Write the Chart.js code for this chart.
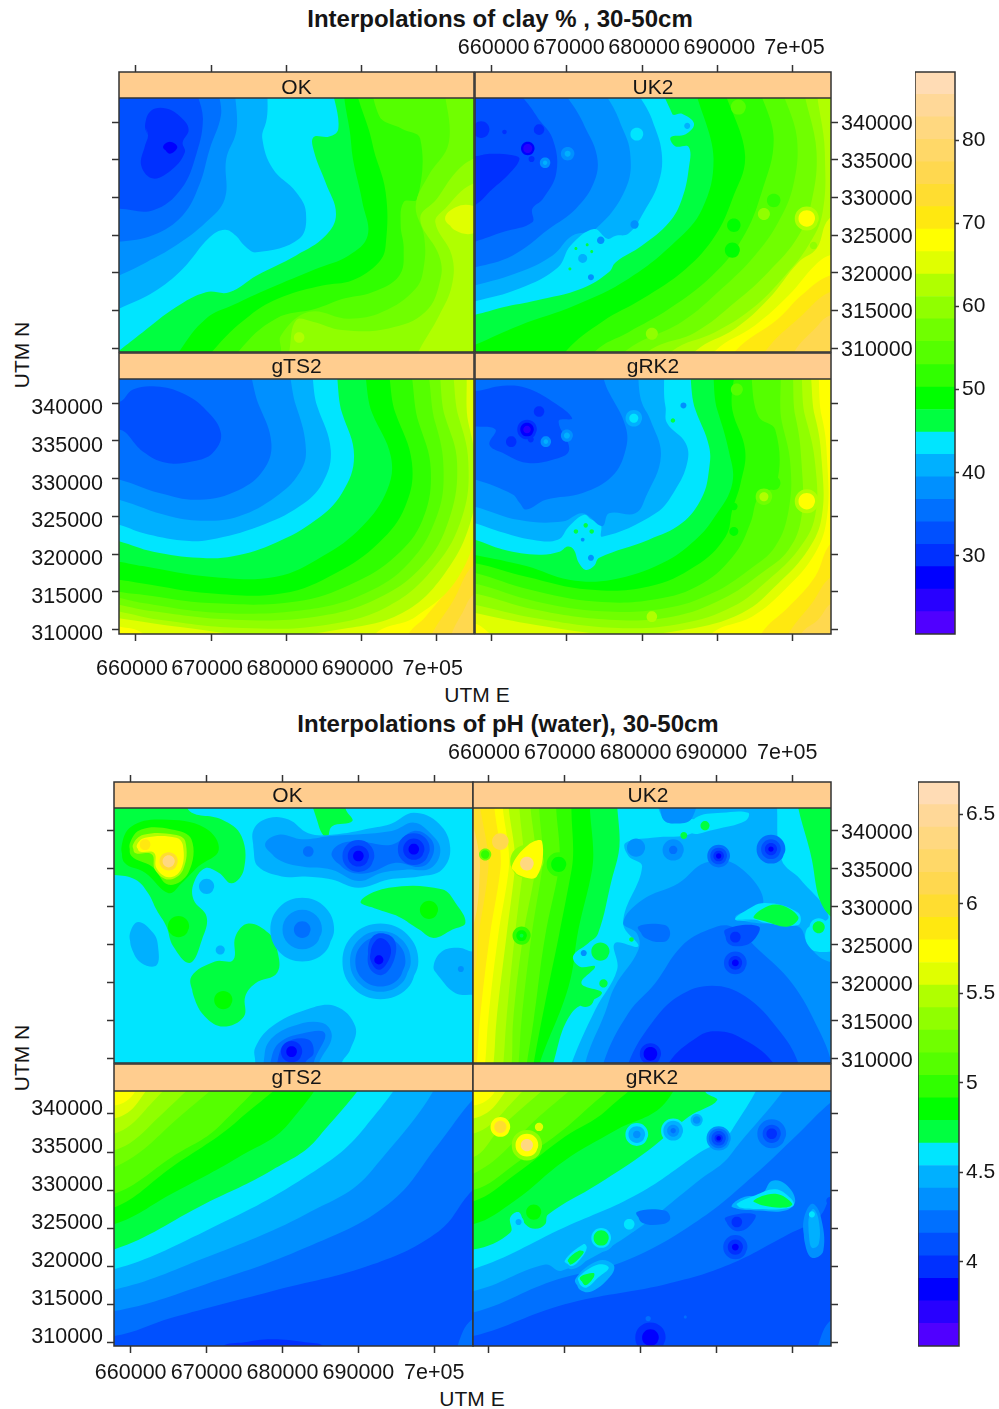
<!DOCTYPE html>
<html><head><meta charset="utf-8"><title>Interpolations</title>
<style>
html,body{margin:0;padding:0;background:#fff;overflow:hidden}
#page{position:relative;width:999px;height:1409px;overflow:hidden;font-family:"Liberation Sans",Arial,sans-serif;color:#151515}
canvas{position:absolute}
.t{position:absolute;white-space:nowrap;transform:translate(-50%,-50%);font-size:21px;line-height:1}
.b{font-weight:bold;font-size:24px}
.v{transform:translate(-50%,-50%) rotate(-90deg)}
</style>
<script src="https://cdn.jsdelivr.net/npm/chart.js@4/dist/chart.umd.min.js"></script>
</head><body><div id="page">
<div class="t b" style="left:500px;top:19px">Interpolations of clay % , 30-50cm</div>
<div class="t" style="left:477px;top:694px">UTM E</div>
<div class="t v" style="left:21px;top:355px">UTM N</div>
<div class="t b" style="left:508px;top:724px">Interpolations of pH (water), 30-50cm</div>
<div class="t" style="left:472px;top:1398px">UTM E</div>
<div class="t v" style="left:21px;top:1058px">UTM N</div>
</div>
<script>
// Shared scale values and tick labels
const palette=['#5000ff','#2800ff','#0000ff','#0030ff','#0050ff','#0070ff','#0090ff','#00b0ff','#00e5ff','#00ff40','#00ff00','#30ff00','#55ff00','#70ff00','#90ff00','#b0ff00','#e0ff00','#ffff00','#ffe810','#ffdd30','#ffd84f','#ffd868','#ffd880','#ffd898','#ffdcb5'];
const clayLevels=[20.6,23.3,26.0,28.7,31.4,34.1,36.8,39.5,42.2,44.9,47.6,50.3,53.0,55.8,58.5,61.2,63.9,66.6,69.3,72.0,74.7,77.4,80.1,82.8,85.5,88.2];
const phLevels=[3.53,3.656,3.782,3.908,4.034,4.16,4.286,4.412,4.538,4.664,4.79,4.916,5.042,5.168,5.294,5.42,5.546,5.672,5.798,5.924,6.05,6.176,6.302,6.428,6.554,6.68];
const clayBarTicks=[30,40,50,60,70,80];
const phBarTicks=[4,4.5,5,5.5,6,6.5];
const eastTicks=[660000,670000,680000,690000,700000];
const eastLabels=['660000','670000','680000','690000','7e+05'];
const northTicks=[310000,315000,320000,325000,330000,335000,340000];
// Outer limits (km) so that contour regions run past the panel edges
const L=654,R=709,T=347,B=306;
// Contour regions in km: [paletteIndex, E,N, E,N, ...]; [paletteIndex,E,N,radius] is a round spot; [paletteIndex] is the panel base
const clayOK=[[4],
[5,668.4,T,668.9,340.4,668.1,336,666,331.1,662.3,328.3,657.7,328.5,L,328.5,L,B,R,B,R,T],
[6,671.5,T,671.3,340.9,669.8,336.4,668.4,331.6,666.2,327.6,662.3,325,657.7,324.1,L,324,L,B,R,B,R,T],
[7,674.6,T,673.3,338.6,672,335.1,671.8,329.8,669.3,326.7,665.3,323.6,661.4,321.4,657.7,319.6,L,318,L,B,R,B,R,T],
[8,679,T,677.3,340,676.8,337.8,678.2,333.8,681.3,330.7,682.6,328,681.7,324.5,676,322.7,674.4,323.6,673.3,324.9,671.8,325.7,669.8,324.7,666.2,320.5,662.3,317.4,657.7,315.2,L,313.5,L,B,R,B,R,T],
[9,686.9,T,686.9,339.1,685.7,338.1,683.6,338,683.7,336,685.2,332,686.6,327.8,685.2,324.9,681.3,322.3,676,319.6,672.4,317.4,669.3,317.4,665.3,315.4,660.9,312.1,657.7,309.6,655,307.5,R,B,R,T],
[10,689,T,688.6,337.3,690.1,329.4,690.8,324.9,688.3,322.3,683.9,320.5,677.7,317.9,672.9,315.7,669.3,313.9,665.8,309.6,664,B,R,B,R,T],
[11,690.1,T,691.4,337.3,693.2,330.7,693.2,323.6,692.3,321.4,688.8,319,684.8,318.3,679.5,316.8,675.1,314.3,670.2,309.6,668,B,R,B,R,T],
[12,692.3,T,692.3,340.9,695.4,339.1,697.8,337.8,697.4,329.8,695.6,329.4,695.2,326.3,695.6,323.2,695,319.6,691.4,317.4,687.4,316.5,683.9,315.2,678.6,313.9,673.7,309.6,672,B,R,B,R,T],
[13,701.6,T,701.6,337.3,698.9,332.9,697.2,328.9,698.3,324.9,698.3,321,697.2,317.9,692.8,314.8,688.3,313.9,683,314.8,679.3,311.7,679.3,309.6,679,B,R,B,R,T],
[14,R,336.4,704.8,335.1,702.5,333.3,700,329.8,697.8,327.2,700.3,322.3,700.5,319.2,698.5,314.8,693.6,312.6,687.4,312.4,683.5,313.5,681.3,313.7,680.4,309.6,680,B,R,B],
[15,R,332,704.8,331.8,701.1,328.5,699.8,326.7,702,322.3,702,318.3,700.3,314.3,697.6,309.6,696,B,R,B],
[15,681.7,311.4,.7],
[16,701.1,327.2,702.5,328.7,704.8,328.9,R,327,704.8,325.2,702.5,325.6],
[3,661.2,339.5,662,341.5,664,341.8,666,340.6,667,339,666.2,337.3,666.5,336,664.9,333.8,662.3,332.5,660.7,334.2,661.2,336.9,661.6,338.2],
[2,663.6,336.7,664.5,337.4,665.5,336.7,664.5,335.8]];
const clayUK2=[[4],
[3,657.7,335.5,659.7,335.8,662.8,335.6,663.7,335.1,662.3,333.1,660.1,331.1,657.7,328.9,655,328,655,336],
[3,658.6,339,1.1],
[5,662.8,T,665.9,340.9,668.1,337.8,668.6,333.3,666.8,329.8,665.4,328.5,665.4,326.7,661.5,325.4,657.7,324.1,L,323,L,B,R,B,R,T],
[6,669.2,T,672.1,340,674,335.5,673.6,332,671.2,328.5,667.6,325.8,662.8,322.3,657.7,320.7,L,320,L,B,R,B,R,T],
[7,674.7,T,676.9,340.4,678.4,336,677.8,331.1,673.8,325.8,670.7,324.9,668.1,322.3,663.7,320.1,657.7,318.3,L,317.5,L,B,R,B,R,T],
[8,678.9,T,681.3,340.4,682.6,336,682.2,332,680.2,328,678.2,325.2,676.5,324.9,675.4,324.5,673.6,325.8,670.5,323.6,668.8,320.7,663.7,317.9,657.7,316.2,L,315.5,L,B,R,B,R,T],
[9,682.9,T,684,341.1,685.3,341.1,686.9,339.8,685.8,338.4,683.8,338,684.4,336.8,686.2,336.7,686.2,333.8,685.3,329.8,683.6,326.7,680,323.6,676.5,321.4,675.6,320.1,672,317.9,665.9,316.3,661.5,315.4,657.7,314.4,L,314,L,B,R,B,R,T],
[10,688,T,689.5,335.1,688,328.5,684.4,324.1,678.2,319.2,671.2,315.7,663.7,313,657.7,310.4,L,309,L,B,R,B,R,T],
[11,691.5,T,693.7,335.5,692,329.8,689.7,324.9,685.8,320.5,680,316.5,674.7,313.5,669.9,309.6,668,B,R,B,R,T],
[12,695.9,T,697.5,337.8,695.9,330.7,693.3,324.5,689.3,319.6,683.6,315.2,678.2,312.1,673.8,309.6,672,B,R,B,R,T],
[13,698.8,T,700.6,337.8,700.1,331.6,698.1,326.7,695,322.3,690.6,317.9,685.3,313.5,677.8,309.6,676,B,R,B,R,T],
[14,701.9,T,703.2,336,702.6,329.8,700.8,324.9,696.8,320.1,692.4,316.1,687.1,312.1,680.9,309.6,679,B,R,B,R,T],
[15,703.7,T,704.3,336,704,328,702.1,323.6,699,319.6,694.6,315.2,689.7,312.1,684,309.6,682,B,R,B,R,T],
[16,R,329,704.9,327.2,703.2,323.2,700.8,321.4,696.8,316.5,692.4,312.6,687.1,309.6,685,B,R,B],
[17,704.9,322.3,703,321,699.5,317,695,313,689.7,309.6,688,B,R,B,R,323],
[18,704.9,319.6,701.2,317,698.1,313.9,692.4,309.6,691,B,R,B,R,320],
[19,704.9,317.4,701.2,314.3,696.4,309.6,695,B,R,B,R,318],
[20,704.9,314.3,703,312.6,700.3,309.6,699,B,R,B,R,315],
[12,692.8,342,1],[14,681.3,311.9,.8],[15,701.9,327.2,1.6],[17,701.9,327.2,1.1],[11,697.5,329.6,.9],[14,696.2,327.8,.8],[11,694.6,328.7,.6],[10,692.2,326.3,.9],[10,692,323,1],[14,702.8,323.6,.5],
[8,679.3,338.4,.85],[7,686,339.5,.4],[7,672.1,321.9,.6],[6,673.2,319.4,.4],[6,674.5,324.3,.5],[6,679,326.4,.55],
[9,671.2,323.2,.2],[9,672.7,323.7,.2],[9,673.3,322.8,.2],[9,670.4,320.5,.2],
[2,664.8,336.5,.9],[1,664.8,336.5,.6],[3,665.3,335.1,.4],[3,666.3,339,.7],[3,661.7,338.7,.3],
[6,670.1,335.8,.9],[7,670.1,335.8,.4],[6,667.1,334.6,.7],[7,667.1,334.6,.3]];
const clayTS=[[20],
[19,705.1,314.8,703.4,312.2,702,309.5,701,B,L,B,L,T,R,T,R,316],
[18,705.1,318.8,702,313.5,699.4,309.5,698,B,L,B,L,T,R,T,R,320],
[17,705.1,323.2,702.5,317,698.5,311.7,696.3,309.5,695,B,L,B,L,T,R,T,R,325],
[16,703.4,T,706,333.8,705.6,325,702.9,317,697.2,311.7,691.9,309.5,691,B,664,B,660.9,309.5,657.7,310.4,L,311,L,T],
[15,701.8,T,704.2,337.4,705.1,332.1,704.7,325,701.1,317.5,695.4,312.2,687,310,677.7,309.1,665.3,310.4,657.7,311.5,L,312,L,T],
[14,699.8,T,702.9,338.2,704.2,332.1,703.4,325,699.8,318.4,693.6,313.1,685.2,310.6,674.2,310.2,663.1,311.3,657.7,312.4,L,313,L,T],
[13,698.1,T,701.1,338.2,702.7,332.1,701.6,324.5,698.1,318.4,691.9,314,683.9,311.7,672.9,311.3,662.3,312.4,657.7,313.3,L,314,L,T],
[12,696.3,T,699.8,337.4,700.9,331.2,700,325,696.3,318.8,690.5,314.8,682.6,312.6,671.1,312.2,660.9,313.5,657.7,314.2,L,315,L,T],
[11,694.1,T,697.6,337.4,699.2,331.2,698.1,324.5,694.5,319.7,688.8,316.1,681.3,313.7,669.8,313.5,660.9,314.6,657.7,315,L,316,L,T],
[10,691.4,T,694.5,338.7,696.7,332.1,695.8,326.3,692.3,321.5,686.6,317.5,679.5,314.8,669.8,314.8,660.9,316.1,657.7,316.6,L,317,L,T],
[9,688.3,T,691.4,338.7,693.9,332.9,693.4,328.5,690.1,323.7,684.8,319.7,678.6,317,669.8,317,660.9,318.4,657.7,319,L,319.5,L,T],
[8,684.6,T,687.4,338.7,689,333,687.4,328.1,683.9,324.5,678.6,321.5,672.9,319.7,668.4,319.5,662.3,320.3,657.7,321.7,L,322.5,L,T],
[7,681.5,T,684.1,339.6,685.9,333.8,684.8,329.4,681.7,326.3,676.4,323.7,669.8,321.9,666.2,321.8,660.9,322.8,657.7,323.9,L,324.5,L,T],
[6,678.2,T,681.3,339.6,682.6,333.8,681.7,330.7,678.6,327.6,673.7,325,669.3,324.4,664.5,325,657.7,327.2,L,328,L,T],
[5,672.9,T,676.4,339.6,678,334.7,677,331.2,673.7,328.5,668.4,327.2,663.1,328.1,657.7,329.9,L,330.5,L,T],
[4,657.7,340.2,659.6,341.8,662.7,342.2,666.2,341.3,669.3,339.1,671.3,336,670.2,333.4,667.6,332.3,664,332.1,660.9,333.6,657.7,336.5,L,334.5,L,342]];
const clayRK=[[20],
[19,705.2,313.5,703.4,311.3,701.2,309.5,700,B,L,B,L,T,R,T,R,315],
[18,705.2,317,702.6,313.5,699.5,309.5,698,B,L,B,L,T,R,T,R,318],
[17,705.2,321.5,703,317,699.5,313,695.9,309.5,695,B,L,B,L,T,R,T,R,323],
[16,701.2,T,703.9,338.2,704.6,332.5,704.6,325,703,320.1,699,315.3,694.6,311.7,689.3,309.5,688,B,664,B,659.7,309.5,657.7,310.8,L,311,L,T],
[15,700.1,T,703,338.2,703.9,332.1,703.9,325,702.1,320.6,698.1,316.1,693.3,312.2,685.8,310,676.9,309.3,665.9,310.6,657.7,312.2,L,313,L,T],
[14,699,T,701.7,338.2,703,332.1,703,325,700.8,320.6,696.8,316.6,692,313,685.3,310.8,676.9,310.2,665.9,311.5,657.7,313.3,L,314,L,T],
[13,697.9,T,700.4,338.2,701.2,332.1,701.2,325,699.5,320.6,695.9,317.5,690.6,314,684,311.7,675.6,311.3,665.9,312.6,657.7,314.8,L,315,L,T],
[12,696.4,T,698.6,337.4,699.7,332.1,699.5,325.9,697.7,321,694.2,317.9,689.3,314.8,683.1,312.8,674.7,312.4,665.9,313.7,657.7,316.1,L,316.5,L,T],
[11,692.4,T,695.5,338.2,697.7,336.5,697.9,329.4,695.5,327.6,694.4,324.1,692.4,320.1,688,316.1,681.8,314,673.8,313.7,665,315.3,657.7,317.5,L,318,L,T],
[10,691.1,T,692,339.1,693.7,333.8,693.1,329.4,692,325.9,691.1,322.3,687.1,318.4,680.9,315.7,672.9,315.3,664.6,317,657.7,318.8,L,319,L,T],
[9,687.5,T,690,339.1,691.5,333.8,692,329.4,689.7,325,687.1,321.9,682.7,318.8,676,316.6,670.3,316.6,664.6,318.4,657.7,319.9,L,320.5,L,T],
[8,684.4,T,687.1,339.1,688.9,334.3,688.9,331.2,688,327.6,685.3,324.1,680.9,321.9,674.3,319.5,673.6,318.4,672.5,317.9,671.6,318.8,670.9,320.6,670.1,321,669,320.3,666.3,319.9,661.5,320.6,657.7,321.9,L,322.5,L,T],
[7,681.3,T,683.1,339.6,683.3,337.4,685.8,334.7,686,332.1,684.4,328.5,681.8,325.4,674.7,322.3,674.5,323.9,673.2,324.6,672.3,325.2,670.3,323.7,668.8,321.9,665.4,321.9,661,323,657.7,324.1,L,325,L,T],
[6,677.8,T,680,340,681.1,337.8,682.5,333,680.5,327.6,679.1,325.4,675.6,325.4,674.7,323.7,672.1,325.4,669.4,324.3,663.7,324.5,657.7,326.3,L,327,L,T],
[5,672.5,T,675.6,341.4,677.8,336.9,677.8,333.8,676,330.3,672.1,328.1,667.2,327.2,664.6,325.9,663.7,326.8,662.8,327.9,657.7,329.9,L,330.5,L,T],
[4,657.7,341.6,661.5,342.3,664.6,342,668.1,340.2,670.7,338,668.9,337.6,670.3,333.8,668.1,332.5,664.6,332.1,661.5,333.4,659.7,334.5,660.5,336.5,657.7,336.9,L,337,L,342],
[3,664.7,336.5,1.3],[2,664.7,336.5,.9],[1,664.7,336.5,.5],[3,662.6,334.9,.7],[3,665.2,335.2,.4],[3,666.3,338.9,.7],
[6,667.2,334.9,.7],[7,667.2,334.9,.3],[6,670,335.7,.8],[7,670,335.7,.4],[7,678.9,338,1.1],[8,678.9,338,.6],
[6,685.5,339.7,.4],[9,684.1,337.7,.3],[9,671.2,323,.3],[9,672.5,323.8,.3],[9,673.3,323,.3],[6,672.1,321.9,.25],[6,673.2,319.5,.4],
[13,696.2,327.6,1.1],[15,696.2,327.6,.6],[15,701.9,327,1.6],[17,701.9,327,1.1],[11,697.5,329.4,.9],[12,692.6,341.8,.8],[10,692.2,326.3,.5],[10,692.2,323,.6],[15,681.3,311.7,.7]];
const phOK=[[8],
[9,L,334.2,L,T,667.6,T,667.6,342.8,672,341.5,674.6,339.3,674.9,334.9,673.3,333.1,671.6,334.5,669.8,335.1,668.3,333.1,668.3,330.9,670,328.7,669.4,325.7,667.8,322.6,665.6,324.8,664.7,327.4,663.4,329.6,662.3,331.8,660.6,333.6,657.8,334.2],
[10,658.8,338,660.1,340.6,664.1,341.5,669.8,340.4,671.6,337.5,668.9,335.3,666.7,333.1,665,331.8,661.9,334.5,659.2,335.8],
[10,666.3,327.4,1.4],
[12,659.9,338.4,661.4,340.2,665.4,340.2,668,338.9,667.6,334.5,665,332.9,662.8,335.3,660.1,336.7],
[15,660.3,338.2,661.7,339.5,665.8,339.5,667.2,338.6,666.9,334.9,665,333.6,663.2,334.9,662.8,336.9,660.6,337.1],
[17,660.8,338.1,661.9,339.1,666,339.1,666.9,338,666.6,334.9,665,333.9,663.4,335.1,663.1,337.1,661.2,337.3],
[19,665,336,1.2],[22,665,336,.8],[18,661.9,338.2,.7],
[9,668,320.8,671.1,322.8,673.5,323,673.8,326.1,675.5,327.8,678.2,326.5,679.3,324.3,679.3,321.3,676.4,319.9,675.1,318.2,674.9,315.5,672.2,314.2,669.8,315.5,668.3,318.2],
[10,672.2,317.7,1.2],
[9,683.7,T,684.8,340.6,685.9,339.1,686.5,340.6,689.2,341.3,688.3,343,688.3,T],
[9,690.3,330.7,694,332.5,701,332.3,702.8,330.5,704.1,327.9,702.4,327,699.9,325.9,698,327,695.3,328.7,692.7,329.6],
[10,699.3,329.6,1.2],
[7,676.2,340.2,678.2,341.7,680.8,341.5,683.4,339.7,686.5,339.5,691.8,340.4,694.4,341,697.3,342.4,700.6,341,702.1,337.8,701,334.9,698,334,694,333.6,690,332.5,686.5,333.6,683,334,679.9,334,676.8,335.3,676.2,337.5],
[6,677.7,338.2,679.5,339.5,682.6,338.9,686.1,339.3,694.4,340,697.3,341.1,699.5,339.7,700.8,337.5,699.5,335.1,696.2,334.9,693.1,334.5,690,333.4,686.5,334.9,682.6,335.3,679.5,336.2],
[5,683.4,337.3,.7],
[5,686.5,336.7,687.4,338.2,690,338.6,694.4,338.2,697.3,340,699.5,339,699.9,337.1,698.4,335.3,694.9,335.8,691.4,334.5,688.7,334.7],
[4,690,336.7,2.1],[4,697.3,337.6,2.1],[3,690,336.7,1.4],[3,697.3,337.6,1.4],[2,690,336.7,.7],[2,697.3,337.6,.7],
[7,682.6,327,4.2],[6,682.6,327,2.6],[5,682.6,327,1.1],
[7,692.9,322.8,5],[6,692.9,322.8,4],[5,692.9,322.8,3.3],
[4,691.4,325.2,692.7,326.5,694.7,325.7,694.7,323,693.1,321,691.4,322.1],
[3,691.8,324.8,692.9,325.9,694.2,324.8,694,323,692.7,321.7,691.6,323],
[2,692.7,323,.6],
[7,659.9,326.5,661,328,663,326.5,663.6,324.8,663.4,322.3,661.4,322.6,660.1,324.6],
[7,671.8,324.3,.6],[7,670,332.7,1],
[7,699.9,322.1,701,324.1,703.2,324.6,705,324.1,R,324,R,318,705,318.4,702.8,318.6,700.6,320.8],
[6,703.5,321.8,.4],
[7,676.4,309.4,676.4,311.4,678.6,314.2,683,316.4,687,316.9,689.6,314.2,688.9,311.1,687.8,309.4,687,B,676,B],
[6,677.5,309.4,678.2,312.2,681.2,314.2,685.2,314.7,686.5,312.9,684.8,309.4,684,B,677,B],
[5,678.4,309.4,679.5,312,682.6,313.3,685.6,313.3,684.1,309.4,684,B,678,B],
[4,679.3,309.4,680.4,312,683.4,312.5,684.1,310.7,683,309.4,683,B,679,B],
[3,681.2,310.9,1.4],[2,681.2,310.9,.7]];
const phUK2=[[21],
[19,659,T,658.8,334.9,657.9,327.4,656,325,L,B,R,B,R,T],
[18,660.6,T,659.9,334.9,658.6,326.1,657.9,320.8,656,319,L,B,R,B,R,T],
[17,662.6,T,661.5,334.9,660.1,326.1,658.8,315.1,658.4,309.4,658,B,R,B,R,T],
[16,663.7,T,662.6,334.9,661.2,326.1,659.9,315.1,659.5,309.4,659,B,R,B,R,T],
[15,664.5,T,663.4,334.9,662.3,326.1,661,315.1,660.6,309.4,660,B,R,B,R,T],
[14,666.1,T,664.5,334.9,663.4,326.1,662.3,315.1,661.9,309.4,661.5,B,R,B,R,T],
[13,667.4,T,666.1,334.9,664.5,326.1,663.2,315.1,663,309.4,662.5,B,R,B,R,T],
[12,668.7,T,667,334.9,665.6,326.1,664.3,315.1,663.9,309.4,663.4,B,R,B,R,T],
[11,670.9,T,669.2,334.9,667.4,326.1,665.9,315.1,665,309.4,664.5,B,R,B,R,T],
[10,673.1,T,670.9,334.9,669.2,326.1,667.4,317.3,665.9,309.4,665.4,B,R,B,R,T],
[9,675.3,T,673.6,334.9,671.8,327,670.5,319.5,666.7,309.4,666,B,R,B,R,T],
[8,678.6,T,677.1,337.1,676.2,333.6,674.4,326.5,673.1,325.2,671.1,323.5,672,322.1,674,322.1,672.2,319.9,674.9,318.6,670.9,316,668.5,309.4,668,B,R,B,R,T],
[7,682.8,T,683.2,341.3,687.2,341.5,686.8,339.7,681.5,339.1,678,338.4,678.4,336.7,680.2,335.3,677.7,327.9,679.7,324.8,676.6,325.2,676.9,321.7,674,316.4,670.9,309.4,670,B,R,B,R,323.5,702.6,324.3,701.9,327,704.8,328.7,701.1,333.6,698.6,336.2,696.4,T],
[8,686.8,339.7,687.2,341.7,690.7,342.4,694.2,342.4,693.8,341.3,689.8,340.2],
[6,682.8,T,682.8,341.9,684.1,341,686.8,341.7,687.2,T],
[6,672.7,B,672.7,309.4,675.3,316,676.6,319.5,679.7,324.3,679.5,326.5,677.7,327.9,680.2,330.9,685,333.1,688.5,335.8,692.5,335.6,696.2,330.7,692.5,328.7,695.1,327.9,700.8,327.4,702.2,324.8,704.8,322.8,R,322.8,R,B],
[5,675.1,309.4,678.4,316,681.9,319.9,685.4,324.8,689,327,692,327.4,695.6,324.3,700,319.9,703.5,313.8,705.2,309.4,705.5,B,675,B],
[4,678.4,309.4,681.5,314.7,685,318.2,689.4,319.6,693.8,318.2,698.2,313.8,700.8,309.4,701,B,678,B],
[3,683.7,309.4,687.6,312.9,689.8,313.6,692.9,312.9,697.5,309.4,698,B,683,B],
[9,701.1,T,702.6,336.2,704.6,329.2,R,328,R,T],
[8,692.5,328.3,693.4,329.2,696.4,330.5,700.8,329.2,700.8,327.6,696.4,327.9,695.1,328.3],
[9,694.9,328.7,697.8,330.3,700.8,328.7,699.5,327.4,696.4,328.1],
[8,703.5,327.3,1.2],[9,703.5,327.3,.8],
[3,681.3,310.6,1.4],[2,681.3,310.6,.9],
[4,691.2,327,695.6,327.4,694.7,325.4,692.5,324.8,691.4,325.4],[3,692.5,326,.7],
[4,692.5,322.6,1.5],[3,692.5,322.6,.9],[2,692.5,322.6,.45],
[5,690.3,336.7,1.5],[4,690.3,336.7,1.1],[3,690.3,336.7,.7],[2,690.3,336.7,.35],
[5,697.2,337.6,1.9],[4,697.2,337.6,1.3],[3,697.2,337.6,.8],[2,697.2,337.6,.35],
[6,684.3,337.5,1.4],[5,684.3,337.5,.55],[6,679.4,337.8,1.2],
[5,679.7,327.4,683.2,327.6,683.9,326.5,683.2,325.4,680.6,325.9],
[6,672.5,323.9,.4],
[13,659.5,336.9,.8],[11,659.5,336.9,.55],[11,664.3,326.2,1.2],[10,664.3,326.2,.7],[9,664.3,326.2,.25],[20,661.5,338.6,1.1],
[11,669.2,335.6,1.6],[10,669.2,335.6,1],
[14,665,336,2.2],
[17,663,335.3,665.2,338.2,667,338.6,666.3,334,663.9,334.2],[22,665,335.7,.9],
[9,688.5,340.7,.6],[9,685.7,339.4,.45],[9,674.7,324.1,1.2],[9,675.1,319.9,.55],[9,672.7,318,1.2],[9,678.8,325.7,.3]];
const phTS=[[4],
[5,L,311.5,657.8,310.8,665.4,313.2,678.6,316.7,691.8,320.2,700.6,324.6,704.6,329.5,R,334,R,T,L,T],
[6,657.8,314.1,669.8,317.6,683,322.4,694,328.2,700.6,336.1,705.2,342,R,345,R,T,L,T,L,314.8],
[7,657.8,316.9,669.8,321.1,683,326.8,691.8,332.6,699.5,T,L,T,L,317.5],
[8,657.8,319.6,669.8,324.6,683,331.7,690.9,338.3,695.1,T,L,T,L,320.2],
[9,657.8,322.2,669.8,328.2,678.6,332.6,684.8,337,690.5,T,L,T,L,323],
[10,657.8,325.5,665.4,329.5,674.2,334.3,680.8,338.7,684.8,T,L,T,L,326],
[11,657.8,327.7,665.4,333,674.2,339.2,681.2,T,L,T,L,328.5],
[12,657.8,329.5,665.4,334.3,672,338.7,677.7,T,L,T,L,330.5],
[13,657.8,333,665.4,338.7,672.9,T,L,T,L,334],
[14,657.8,335.2,662.8,338.7,669.4,T,L,T,L,336],
[15,657.8,337.4,661.9,340.5,666.3,T,L,T,L,338],
[16,657.8,339.4,661,341.6,663.2,T,L,T,L,340],
[17,657.8,341.1,660.6,343,661,T,L,T,L,342],
[5,703,309.3,705,313,R,314,R,B,702.5,B],
[3,672,309.3,675,310,678.6,310.4,683,310,685.6,309.3,686,B,672,B]];
const phRK=[[4],
[5,657.9,310.8,670,315,683.2,317.6,691.2,320,699.5,324.2,703.5,326.4,705.2,329.5,R,335,R,T,L,T,L,311],
[5,703.3,309.3,705.2,313,R,314,R,B,702.5,B],
[6,657.9,313.9,668.3,318,678,320.7,687.6,326,694.7,331.7,700.8,337.4,705.2,341.6,R,344,R,T,L,T,L,314.5],
[7,657.9,316.7,667.4,320.2,669.6,319.4,678,323.8,687.6,331.2,692,334.8,699.1,T,L,T,L,317.2],
[8,657.9,319.6,670,325.1,679.7,329.5,687.6,334.8,692,337.8,695.1,T,L,T,L,320],
[9,657.9,322.2,662.8,324.4,662.8,326.4,663.9,327.1,664.8,325.5,666.1,324.9,667.4,325.5,667.8,326.8,674.4,330.8,681,335.2,686.3,339.6,690.1,341.8,688.5,343,688,T,L,T,L,323],
[10,657.9,325.5,663.4,328.6,670,333.9,676.6,337.8,683.2,341.4,684.6,T,L,T,L,326],
[11,657.9,328.5,663.4,332,670,337,675.5,340.5,681,T,L,T,L,329],
[12,657.9,330,663.4,333.4,672.2,340,678,T,L,T,L,331],
[13,657.9,332.1,665.6,338.7,673.1,T,L,T,L,333],
[14,657.9,334.3,661.2,337.8,669.6,T,L,T,L,335],
[15,657.9,337.4,662.1,340.5,666.5,T,L,T,L,338],
[16,657.9,339.4,661.2,341.6,663.4,T,L,T,L,340],
[17,657.9,341.1,660.8,343,661.2,T,L,T,L,342],
[17,661.5,338.3,1.3],[19,661.5,338.3,.8],
[14,665,335.9,2],[17,665,335.9,1.5],[22,665,335.9,.8],[16,666.6,338.3,.55],
[10,665.9,327.1,1],[8,663.9,325.8,.7],[7,663.9,325.8,.4],
[8,679.5,337.3,1.5],[7,679.5,337.3,1.1],[6,679.5,337.3,.5],
[8,684.3,337.8,1.6],[7,684.3,337.8,1.3],[6,684.3,337.8,.8],[5,684.3,337.8,.35],
[7,687.4,339.2,.8],[6,687.4,339.2,.5],
[6,690.3,336.8,1.6],[5,690.3,336.8,1.3],[4,690.3,336.8,.95],[3,690.3,336.8,.55],[2,690.3,336.8,.3],
[6,697.3,337.4,2.1],[5,697.3,337.4,1.9],[4,697.3,337.4,1.2],[3,697.3,337.4,.7],
[7,692,327.9,693.4,329,696,329.5,697.3,331.2,699.1,330.8,700.4,328.6,699.1,327.3,695.6,327.3,692.9,327.5],
[8,692.7,328.2,695.1,329.3,697.8,330.1,699.7,329,700.2,328,698.6,327.5,695.6,327.5,693.1,327.7],
[9,694.9,328.6,697.8,329.5,700,328.2,699.1,327.7,696,328],
[5,695.8,331,.5],
[4,691.2,326.4,695.1,326.8,694.2,325.1,692.7,324.6,691.6,325.3],[3,692.7,325.8,.7],
[4,692.5,322.5,1.6],[3,692.5,322.5,1],[2,692.5,322.5,.45],
[3,681.3,310.6,2],[2,681.3,310.6,1.1],
[5,679.5,327.1,683.2,327.3,683.9,326.2,682.8,325.5,680.2,325.7],
[7,678.5,325.5,1.1],[8,678.5,325.5,.7],[5,681,313.1,.35],[5,685.9,313.3,.2],
[7,674.8,323.7,1.8],[8,674.8,323.7,1.3],[9,674.8,323.7,1],
[7,669.6,320.7,672.2,323.3,673.3,322.9,673.1,321.1,670.9,319.6],
[8,670,320.7,672.5,322.9,672.9,322.4,672.2,321.1,670.9,320],
[9,670.4,320.8,671.8,322,672.5,321.8,670.8,320.2],
[7,671.4,318.3,674.4,320.7,676.4,320.2,676.2,318.9,673.6,316.7,672,316.9],
[8,671.8,318.5,674.4,320.2,675.8,319.8,674.4,318.5,672.9,317.2,672,317.6],
[9,672,318.5,673.8,319.1,673.8,318.5,672.7,317.5],
[6,701.5,326,702.6,328.2,703.7,326.8,704.1,322,702.6,321.1,701.7,322.9],
[7,702.2,326.4,702.8,327.5,703.5,326,703.5,322.9,702.6,322.4,702.2,324.2],
[8,702.6,326.8,.4],[4,705,328.6,.5],[4,705,325.1,.5]];

// ---------- building ----------
const STRIP='#ffcd8f',INK='#333333',TXT='#151515',FONT='"Liberation Sans",Arial,sans-serif',M=110,TICK_SIZE=21.5;
const octo=[[1,0],[.71,.71],[0,1],[-.71,.71],[-1,0],[-.71,-.71],[0,-1],[.71,-.71]];
function region(entry){
  let pts=[];
  if(entry.length===1){pts=[[L,B],[R,B],[R,T],[L,T]];}
  else if(entry.length===4){pts=octo.map(o=>[entry[1]+o[0]*entry[3],entry[2]+o[1]*entry[3]]);}
  else{for(let i=1;i<entry.length;i+=2)pts.push([entry[i],entry[i+1]]);}
  if(entry.length>1)pts=[pts[pts.length-1],...pts,pts[0]];
  return {data:pts.map(p=>({x:p[0]*1000,y:p[1]*1000})),showLine:true,fill:'shape',
    backgroundColor:palette[entry[0]],borderWidth:0,borderColor:'transparent',pointRadius:0,
    tension:entry.length===1?0:0.4};
}
function mount(left,top,w,h){
  const c=document.createElement('canvas');
  c.width=w;c.height=h;c.style.left=left+'px';c.style.top=top+'px';
  c.style.width=w+'px';c.style.height=h+'px';
  document.getElementById('page').appendChild(c);
  return c.getContext('2d');
}
function fixAxis(size){
  return s=>{ if(s.isHorizontal())s.height=size; else s.width=size;
    s.paddingLeft=s.paddingRight=s.paddingTop=s.paddingBottom=0; };
}
function panel(p){
  const [x0,y0,x1,y1]=p.rect;
  const ctx=mount(x0-M,y0-M,x1-x0+2*M,y1-y0+2*M);
  const ds=p.regions.map(e=>region(e));
  // title strip of the panel, in data coordinates
  ds.push({data:[{x:L*1000,y:p.plotTop},{x:R*1000,y:p.plotTop},{x:R*1000,y:352000},{x:L*1000,y:352000},{x:L*1000,y:p.plotTop}],
    showLine:true,fill:'shape',backgroundColor:STRIP,borderWidth:0,pointRadius:0,tension:0});
  ds.reverse();
  const pad={left:p.yPos==='left'?0:M,right:p.yPos==='right'?0:M,top:p.xPos==='top'?0:M,bottom:p.xPos==='bottom'?0:M};
  new Chart(ctx,{type:'scatter',data:{datasets:ds},
    options:{responsive:false,animation:false,events:[],layout:{padding:pad},
      elements:{line:{capBezierPoints:false}},
      plugins:{legend:{display:false},tooltip:{enabled:false},title:{display:false}},
      scales:{
        x:{type:'linear',position:p.xPos,min:p.xr[0],max:p.xr[1],
          afterBuildTicks:s=>{s.ticks=eastTicks.map(v=>({value:v}));},afterFit:fixAxis(M),
          grid:{drawOnChartArea:false,drawTicks:true,tickLength:7,tickColor:INK,tickWidth:1.5},border:{display:false},
          ticks:{display:!!p.xLab,autoSkip:false,maxRotation:0,minRotation:0,padding:p.xPad||8,labelOffset:p.xOff||0,color:TXT,
            font:{family:FONT,size:TICK_SIZE},callback:v=>eastLabels[eastTicks.indexOf(v)]}},
        y:{type:'linear',position:p.yPos,min:p.yr[0],max:p.yr[1],
          afterBuildTicks:s=>{s.ticks=northTicks.map(v=>({value:v}));},afterFit:fixAxis(M),
          grid:{drawOnChartArea:false,drawTicks:true,tickLength:7,tickColor:INK,tickWidth:1.5},border:{display:false},
          ticks:{display:!!p.yLab,autoSkip:false,padding:p.yPad||3,labelOffset:p.yOff||0,color:TXT,
            font:{family:FONT,size:TICK_SIZE},callback:v=>String(v)}}
      }},
    plugins:[{id:'frame',afterDatasetsDraw(ch){
      const a=ch.chartArea,c=ch.ctx,yS=ch.scales.y.getPixelForValue(p.plotTop);
      c.save();c.strokeStyle=INK;c.lineWidth=1.5;
      c.strokeRect(a.left,a.top,a.right-a.left,a.bottom-a.top);
      c.beginPath();c.moveTo(a.left,yS);c.lineTo(a.right,yS);c.stroke();
      c.fillStyle=TXT;c.font='21px '+FONT;c.textAlign='center';c.textBaseline='middle';
      c.fillText(p.name,(a.left+a.right)/2+(p.nameOff||0),(a.top+yS)/2+1+(p.nameDy||0));
      c.restore();
    }}]
  });
}
function colorbar(rect,levels,ticks,labelFn){
  const [x0,y0,x1,y1]=rect;
  const ctx=mount(x0,y0-20,x1-x0+60,y1-y0+40);
  const ds=palette.map((col,i)=>({data:[[levels[i],levels[i+1]]],backgroundColor:col,borderWidth:0,
    barPercentage:1,categoryPercentage:1,grouped:false}));
  new Chart(ctx,{type:'bar',data:{labels:[''],datasets:ds},
    options:{responsive:false,animation:false,events:[],layout:{padding:{top:20,bottom:20}},
      plugins:{legend:{display:false},tooltip:{enabled:false}},
      scales:{x:{display:false},
        y:{position:'right',min:levels[0],max:levels[levels.length-1],
          afterBuildTicks:s=>{s.ticks=ticks.map(v=>({value:v}));},afterFit:fixAxis(60),
          grid:{drawOnChartArea:false,drawTicks:true,tickLength:4,tickColor:INK,tickWidth:1.5},border:{display:false},
          ticks:{autoSkip:false,padding:3,color:TXT,font:{family:FONT,size:21},callback:labelFn}}}},
    plugins:[{id:'barFrame',afterDatasetsDraw(ch){
      const a=ch.chartArea,c=ch.ctx;c.save();c.strokeStyle=INK;c.lineWidth=1.5;
      c.strokeRect(a.left,a.top,a.right-a.left,a.bottom-a.top);c.restore();}}]
  });
}
const panels=[
 {name:'OK',regions:clayOK,rect:[119,72,474,352],plotTop:343200,xr:[657740,704950],yr:[309470,346653],xPos:'top',yPos:'left',nameDy:2},
 {name:'UK2',regions:clayUK2,rect:[475,72,831,352],plotTop:343200,xr:[657780,705120],yr:[309470,346653],xPos:'top',yPos:'right',xLab:1,yLab:1,xPad:4,xOff:2,yPad:3,yOff:2,nameDy:2},
 {name:'gTS2',regions:clayTS,rect:[119,353,474,634],plotTop:343200,xr:[657740,704950],yr:[309400,346650],xPos:'bottom',yPos:'left',xLab:1,yLab:1,xPad:15,xOff:-4,yPad:9,yOff:5},
 {name:'gRK2',regions:clayRK,rect:[475,353,831,634],plotTop:343200,xr:[657780,705120],yr:[309400,346650],xPos:'bottom',yPos:'right'},
 {name:'OK',regions:phOK,rect:[114,782,473,1063],plotTop:343030,xr:[657800,705100],yr:[309400,346460],xPos:'top',yPos:'left',nameOff:-6},
 {name:'UK2',regions:phUK2,rect:[473,782,831,1063],plotTop:343030,xr:[657890,705120],yr:[309400,346460],xPos:'top',yPos:'right',xLab:1,yLab:1,xPad:9,xOff:-5,yPad:3,yOff:2.5,nameOff:-4},
 {name:'gTS2',regions:phTS,rect:[114,1064,473,1346],plotTop:343020,xr:[657800,705100],yr:[309500,346570],xPos:'bottom',yPos:'left',xLab:1,yLab:1,xPad:7,yPad:4,yOff:-5,nameOff:3},
 {name:'gRK2',regions:phRK,rect:[473,1064,831,1346],plotTop:343020,xr:[657890,705120],yr:[309500,346570],xPos:'bottom',yPos:'right'}
];
panels.forEach(panel);
colorbar([915,72,955,634],clayLevels,clayBarTicks,v=>String(v));
colorbar([918,782,959,1346],phLevels,phBarTicks,v=>String(v));
</script></body></html>
